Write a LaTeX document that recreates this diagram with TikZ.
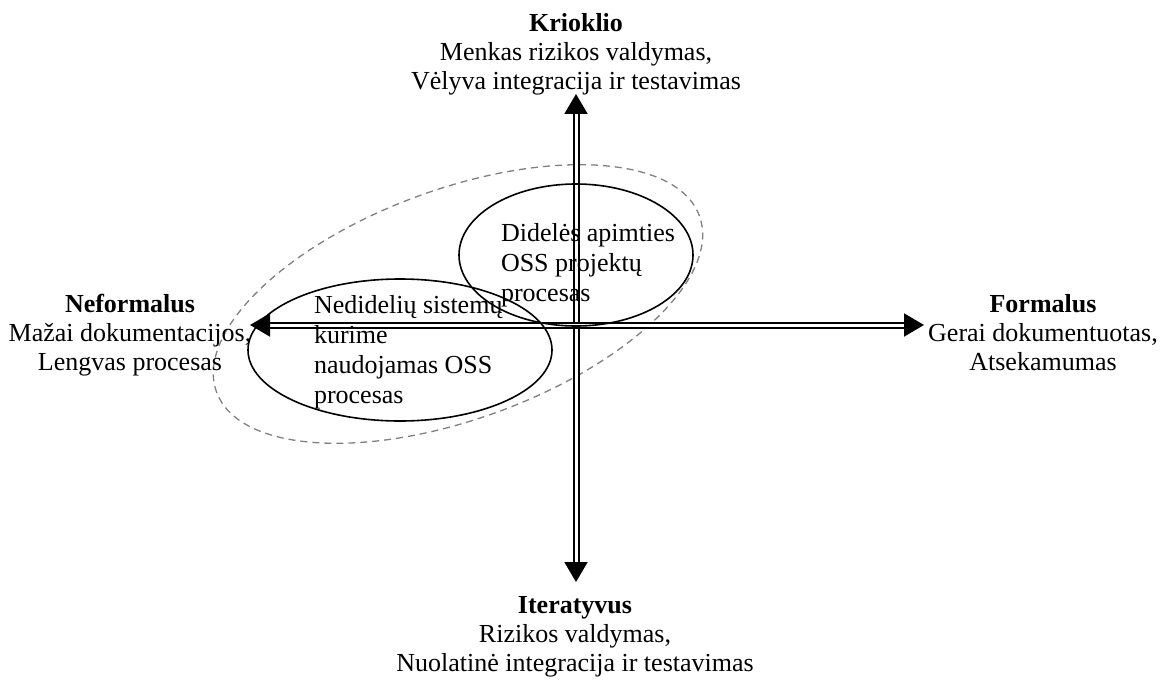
\documentclass[tikz,border=0pt]{standalone}
\usepackage{fontspec}
\setmainfont{Liberation Serif}
\usetikzlibrary{arrows.meta,shapes.geometric}
\begin{document}
\begin{tikzpicture}[x=1pt,y=-1pt,
  every node/.style={inner sep=0pt,outer sep=0pt},
  txt/.style={anchor=base,font=\fontsize{26}{30}\selectfont},
  ttl/.style={txt,font=\fontsize{26}{30}\selectfont\bfseries},
  ltxt/.style={txt,anchor=base west},
  axis/.style={double,line width=2pt,double distance=3pt,
    {Triangle[length=20pt,width=23pt]}-{Triangle[length=20pt,width=23pt]}},
  group/.style={draw,ellipse,line width=1.6pt},
  hull/.style={draw,ellipse,gray,line width=1.3pt,dash pattern=on 7pt off 5pt}]
\useasboundingbox (0,0) rectangle (1167,682);

% outer dashed region
\node[hull,rotate=20,minimum width=514pt,minimum height=230pt] (all) at (458,304) {};

% axis end points
\coordinate (n) at (576,94);
\coordinate (s) at (576,582);
\coordinate (w) at (250,325);
\coordinate (e) at (924,325);
\draw[axis] (n) -- (s);
\draw[axis] (w) -- (e);

% process groups
\node[group,minimum width=304pt,minimum height=142pt] (small) at (400,350) {};
\node[group,minimum width=234pt,minimum height=142pt] (big) at (576,255) {};

% north
\node[ttl] (n1) at (576,32) {Krioklio};
\node[txt] (n2) at (576,61) {Menkas rizikos valdymas,};
\node[txt] (n3) at (576,90) {Vėlyva integracija ir testavimas};

% south
\node[ttl] (s1) at (575,613) {Iteratyvus};
\node[txt] (s2) at (575,642) {Rizikos valdymas,};
\node[txt] (s3) at (575,671) {Nuolatinė integracija ir testavimas};

% west
\node[ttl] (w1) at (130,312) {Neformalus};
\node[txt] (w2) at (130,341) {Mažai dokumentacijos,};
\node[txt] (w3) at (130,370) {Lengvas procesas};

% east
\node[ttl] (e1) at (1043,312) {Formalus};
\node[txt] (e2) at (1043,341) {Gerai dokumentuotas,};
\node[txt] (e3) at (1043,370) {Atsekamumas};

% text inside the large-project group
\node[ltxt] (b1) at (501,241) {Didelės apimties};
\node[ltxt] (b2) at (501,271) {OSS projektų};
\node[ltxt] (b3) at (501,301) {procesas};

% text inside the small-system group
\node[ltxt] (m1) at (314,313) {Nedidelių sistemų};
\node[ltxt] (m2) at (314,343) {kūrime};
\node[ltxt] (m3) at (314,373) {naudojamas OSS};
\node[ltxt] (m4) at (314,403) {procesas};
\end{tikzpicture}
\end{document}
